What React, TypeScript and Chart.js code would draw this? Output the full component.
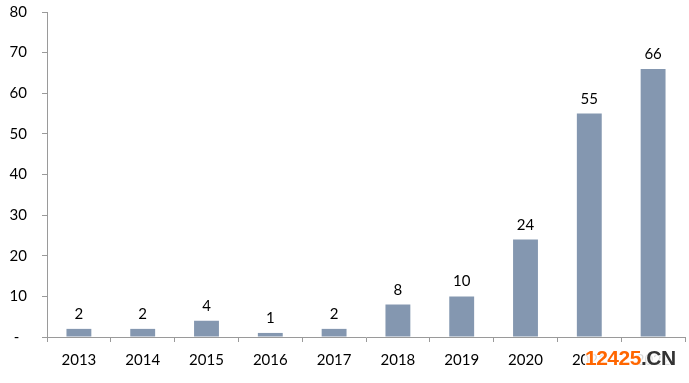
import React, { useEffect, useRef } from "react";
import { Chart, registerables } from "chart.js";

Chart.register(...registerables);

const categories = ["2013", "2014", "2015", "2016", "2017", "2018", "2019", "2020", "2021", "2022"];
const values = [2, 2, 4, 1, 2, 8, 10, 24, 55, 66];
const yTicks = [0, 10, 20, 30, 40, 50, 60, 70, 80];

const FONT = "Lato, 'Open Sans', sans-serif";

const labelPlugin = {
  id: "valueLabels",
  afterDatasetsDraw(chart: any) {
    const ctx = chart.ctx;
    const meta = chart.getDatasetMeta(0);
    ctx.save();
    ctx.fillStyle = "#000000";
    ctx.font = `15px ${FONT}`;
    ctx.textAlign = "center";
    ctx.textBaseline = "alphabetic";
    meta.data.forEach((bar: any, i: number) => {
      ctx.fillText(String(values[i]), bar.x, bar.y - 10);
    });
    ctx.restore();
  },
};

export default function App() {
  const ref = useRef<HTMLCanvasElement>(null);
  useEffect(() => {
    if (!ref.current) return;
    const chart = new Chart(ref.current, {
      type: "bar",
      data: {
        labels: categories,
        datasets: [
          {
            data: values,
            backgroundColor: "#8497B0",
            barPercentage: 0.39,
            categoryPercentage: 1,
          },
        ],
      },
      options: {
        animation: false,
        responsive: false,
        maintainAspectRatio: false,
        layout: { padding: { top: 12, right: 4, left: 0, bottom: 0 } },
        plugins: { legend: { display: false }, tooltip: { enabled: false } },
        scales: {
          x: {
            afterFit(scale: any) {
              scale.height = 46;
              scale.paddingLeft = 0;
              scale.paddingRight = 0;
            },
            grid: {
              offset: true,
              drawOnChartArea: false,
              drawTicks: true,
              tickLength: 5,
              color: "#9A9A9A",
            },
            border: { color: "#9A9A9A" },
            ticks: {
              color: "#000000",
              font: { family: FONT, size: 15 },
              padding: 9,
              maxRotation: 0,
            },
          },
          y: {
            min: 0,
            max: 80,
            afterFit(scale: any) {
              scale.width = 47;
              scale.paddingTop = 0;
              scale.paddingBottom = 0;
            },
            afterBuildTicks(scale: any) {
              scale.ticks = yTicks.map((v) => ({ value: v }));
            },
            grid: {
              drawOnChartArea: false,
              drawTicks: true,
              tickLength: 5,
              color: "#9A9A9A",
            },
            border: { color: "#9A9A9A" },
            ticks: {
              color: "#000000",
              font: { family: FONT, size: 15 },
              padding: 15,
              callback: (v: any) => (Number(v) === 0 ? "-  " : String(v)),
            },
          },
        },
      },
      plugins: [labelPlugin],
    });
    return () => chart.destroy();
  }, []);
  return (
    <div style={{ position: "absolute", left: 0, top: 0, width: 689, height: 383, background: "#fff" }}>
      <canvas ref={ref} width={689} height={383} style={{ display: "block" }} />
      <div
        style={{
          position: "absolute",
          left: 585,
          top: 347,
          fontFamily: "'Liberation Sans', Arial, sans-serif",
          fontWeight: "bold",
          fontSize: 21,
          lineHeight: "22px",
          letterSpacing: -0.5,
          textShadow: "0 0 2px #fff, 0 0 2px #fff, 0 0 3px #fff",
          background: "rgba(255,255,255,0.85)",
        }}
      >
        <span style={{ color: "#FF6600" }}>12425</span>
        <span style={{ color: "#333333" }}>.CN</span>
      </div>
    </div>
  );
}
